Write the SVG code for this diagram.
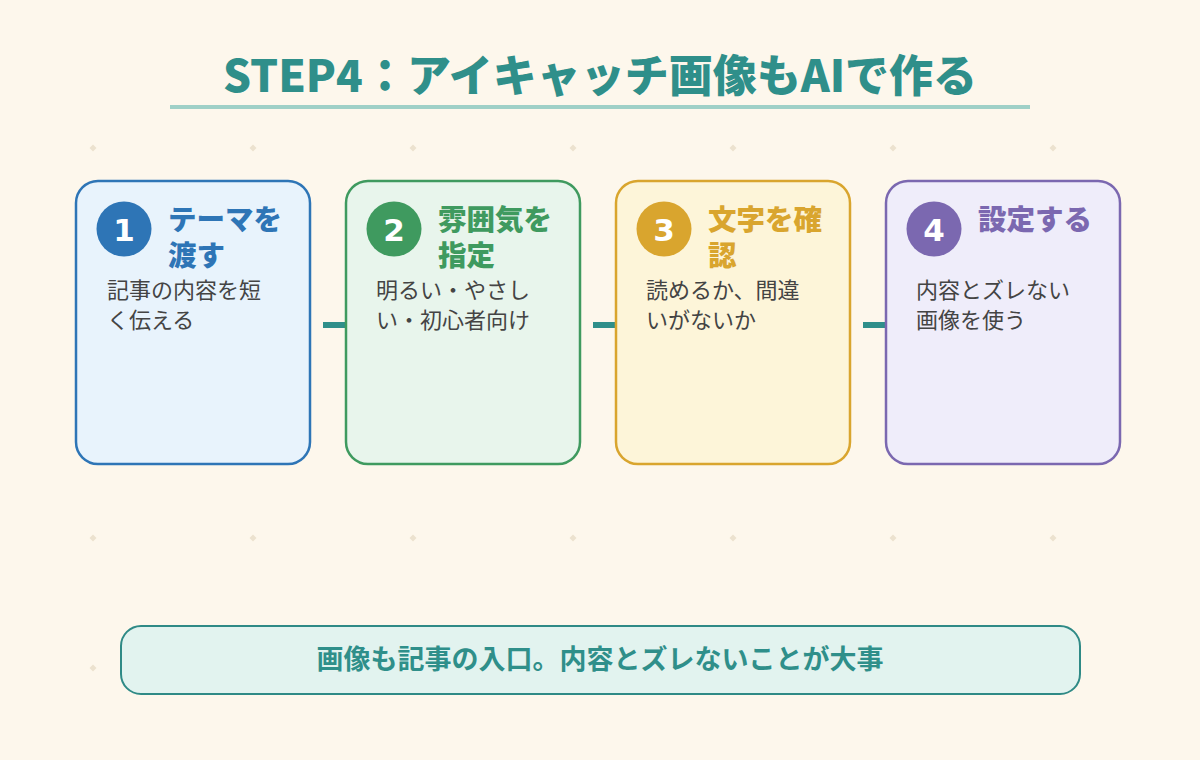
<svg xmlns="http://www.w3.org/2000/svg" width="1200" height="760" viewBox="0 0 1200 760">
<defs>
<style>
.jp{font-family:"Noto Sans CJK JP","Noto Sans CJK SC",sans-serif}
.title{font-size:44px;font-weight:900;fill:#2f8f8a}
.ctitle{font-size:28.5px;font-weight:900}
.desc{font-size:22px;fill:#444;font-weight:400}
.num{font-family:"DejaVu Sans",sans-serif;font-size:31px;font-weight:700;fill:#fff;text-anchor:middle}
.card{stroke-width:2.5}
.dot{fill:#ece2cf}
.bar{stroke:#2f8f8a;stroke-width:6}
</style>
<path id="d" d="M0,-3.5 L3.5,0 L0,3.5 L-3.5,0 Z"/>
</defs>
<rect width="1200" height="760" fill="#fdf7ec"/>
<g id="dots" class="dot">
<use href="#d" x="93" y="148"/><use href="#d" x="253" y="148"/><use href="#d" x="413" y="148"/><use href="#d" x="573" y="148"/><use href="#d" x="733" y="148"/><use href="#d" x="893" y="148"/><use href="#d" x="1053" y="148"/>
<use href="#d" x="93" y="538"/><use href="#d" x="253" y="538"/><use href="#d" x="413" y="538"/><use href="#d" x="573" y="538"/><use href="#d" x="733" y="538"/><use href="#d" x="893" y="538"/><use href="#d" x="1053" y="538"/>
<use href="#d" x="93" y="668"/>
</g>
<g id="title">
<text class="jp title" x="600" y="92" text-anchor="middle">STEP4：アイキャッチ画像もAIで作る</text>
<rect x="170" y="105" width="860" height="4" fill="#9fd0c7"/>
</g>
<g id="connectors">
<line class="bar" x1="323" y1="325" x2="347" y2="325"/>
<line class="bar" x1="593" y1="325" x2="617" y2="325"/>
<line class="bar" x1="863" y1="325" x2="887" y2="325"/>
</g>
<g id="step1">
<rect class="card" x="76" y="181" width="234" height="283" rx="22" fill="#e8f3fc" stroke="#2e75b6"/>
<circle cx="124" cy="229" r="27.5" fill="#2e75b6"/>
<text class="num" x="124" y="241">1</text>
<text class="jp ctitle" fill="#2e75b6" x="168" y="230">テーマを</text>
<text class="jp ctitle" fill="#2e75b6" x="168" y="266">渡す</text>
<text class="jp desc" x="107" y="298">記事の内容を短</text>
<text class="jp desc" x="107" y="328">く伝える</text>
</g>
<g id="step2">
<rect class="card" x="346" y="181" width="234" height="283" rx="22" fill="#e8f5ec" stroke="#3f9a5f"/>
<circle cx="394" cy="229" r="27.5" fill="#3f9a5f"/>
<text class="num" x="394" y="241">2</text>
<text class="jp ctitle" fill="#3f9a5f" x="438" y="230">雰囲気を</text>
<text class="jp ctitle" fill="#3f9a5f" x="438" y="266">指定</text>
<text class="jp desc" x="376" y="298">明るい・やさし</text>
<text class="jp desc" x="376" y="328">い・初心者向け</text>
</g>
<g id="step3">
<rect class="card" x="616" y="181" width="234" height="283" rx="22" fill="#fdf5d9" stroke="#d9a52e"/>
<circle cx="664" cy="229" r="27.5" fill="#d9a52e"/>
<text class="num" x="664" y="241">3</text>
<text class="jp ctitle" fill="#d9a52e" x="708" y="230">文字を確</text>
<text class="jp ctitle" fill="#d9a52e" x="708" y="266">認</text>
<text class="jp desc" x="646" y="298">読めるか、間違</text>
<text class="jp desc" x="646" y="328">いがないか</text>
</g>
<g id="step4">
<rect class="card" x="886" y="181" width="234" height="283" rx="22" fill="#efedfa" stroke="#7b68b0"/>
<circle cx="934" cy="229" r="27.5" fill="#7b68b0"/>
<text class="num" x="934" y="241">4</text>
<text class="jp ctitle" fill="#7b68b0" x="978" y="230">設定する</text>
<text class="jp desc" x="916" y="298">内容とズレない</text>
<text class="jp desc" x="916" y="328">画像を使う</text>
</g>
<g id="summary">
<rect x="121" y="626" width="959" height="68" rx="20" fill="#e2f3ef" stroke="#2f8a86" stroke-width="2"/>
<text class="jp" x="600" y="669" text-anchor="middle" font-size="27" font-weight="700" fill="#2f8f8a">画像も記事の入口。内容とズレないことが大事</text>
</g>
</svg>
